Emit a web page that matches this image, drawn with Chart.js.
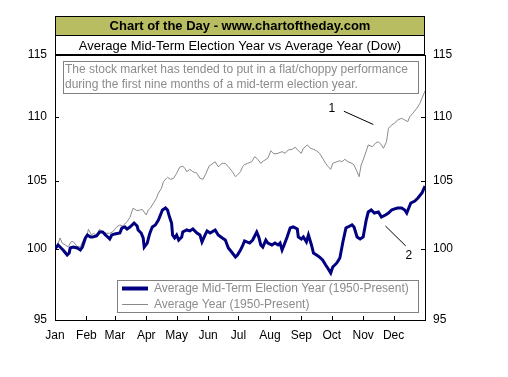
<!DOCTYPE html>
<html>
<head>
<meta charset="utf-8">
<script src="https://cdn.jsdelivr.net/npm/chart.js@4.4.0/dist/chart.umd.min.js"></script>
<style>
  html,body{margin:0;padding:0;background:#fff;}
  #wrap{width:508px;height:377px;position:relative;}
</style>
</head>
<body>
<div id="wrap"><canvas id="cotd"></canvas></div>
<script>
/* Mid-term election year vs average year (Dow) */
const monthDays=[0,31,59,90,120,151,181,212,243,273,304,334];
const monthLabels=['Jan','Feb','Mar','Apr','May','Jun','Jul','Aug','Sep','Oct','Nov','Dec'];
const yTicks=[95,100,105,110,115];

// Average Mid-Term Election Year (1950-Present)
const midDays=[0,3,6,8,12,14,15,18,22,25,27,30,32,35,37,41,44,47,50,52,54,56,59,64,66,69,71,74,78,81,82,85,87,88,91,93,94,96,99,102,106,109,111,113,115,116,118,120,122,125,126,130,133,136,140,143,145,148,150,153,158,161,165,168,171,175,178,180,183,185,187,192,195,199,201,203,205,208,210,214,217,220,222,224,226,229,232,235,239,240,243,245,248,250,253,255,258,261,264,267,269,272,274,278,281,284,287,289,293,295,298,301,304,307,309,312,315,319,322,326,329,332,335,338,342,345,347,349,351,355,358,362,365];
const midVals=[100.0,100.28,100.06,99.92,99.56,99.70,100.06,100.13,100.06,99.92,100.13,100.79,101.00,100.86,100.86,100.93,101.22,101.22,101.00,100.86,100.71,101.00,101.08,101.15,101.52,101.59,101.44,101.59,101.88,101.66,101.37,101.15,100.79,100.13,100.42,101.00,101.22,101.59,101.74,102.10,102.84,102.99,102.84,102.32,101.88,101.00,100.79,101.00,100.64,100.86,101.22,101.37,101.30,101.44,101.15,101.00,100.50,101.00,101.30,101.15,101.37,101.00,100.79,100.64,100.06,99.70,99.41,99.56,99.92,100.21,100.57,100.42,100.64,101.22,100.86,100.28,100.13,100.64,100.42,100.28,100.42,100.28,100.42,99.92,100.28,100.86,101.52,101.59,101.44,100.86,100.71,100.86,100.50,101.00,100.28,99.70,99.56,99.41,99.20,98.84,98.63,98.27,98.70,98.99,99.34,100.50,101.52,101.59,101.74,101.59,100.86,100.71,100.86,102.10,102.69,102.84,102.62,102.69,102.32,102.47,102.62,102.84,102.92,102.99,102.99,102.84,102.62,102.99,103.36,103.51,103.73,104.11,104.63];

// Average Year (1950-Present)
const avgDays=[0,2,5,7,10,13,16,18,22,25,28,32,33,36,38,41,44,47,51,54,57,61,64,67,71,74,77,81,84,86,90,92,94,97,100,102,105,107,110,111,114,117,120,123,126,128,130,133,136,140,143,146,149,152,155,158,161,165,168,171,175,178,180,183,185,187,190,194,197,200,203,206,210,213,216,220,224,227,230,234,237,240,243,245,249,252,255,258,261,264,267,269,272,274,278,281,283,286,289,293,295,298,300,302,304,308,309,313,316,319,322,324,327,329,332,335,338,342,345,348,350,353,357,360,362,365];
const avgVals=[100.0,100.15,100.79,100.42,100.28,100.15,100.52,100.52,100.15,100.15,100.64,101.13,101.42,101.00,101.13,101.00,101.42,101.24,101.13,101.13,101.24,101.61,101.74,101.66,101.98,102.30,102.97,102.79,102.84,102.89,102.47,102.84,102.97,103.34,103.71,104.09,104.46,104.96,105.22,105.29,105.14,105.22,105.60,106.06,106.15,105.98,105.72,105.90,105.72,105.60,105.22,105.14,105.60,106.15,106.31,106.48,106.10,106.36,106.36,106.10,105.72,105.34,105.47,105.72,106.10,106.27,106.36,106.48,106.87,106.67,106.36,106.56,106.75,107.33,107.08,107.13,107.26,107.13,107.39,107.44,107.60,107.33,107.13,107.52,107.78,107.52,107.44,107.33,107.13,106.75,106.36,106.15,105.90,106.36,106.48,106.56,106.48,106.67,106.48,106.36,106.23,105.72,105.34,106.23,106.62,107.52,107.78,107.64,107.91,108.03,107.78,107.52,108.03,109.08,109.34,109.48,109.74,109.87,109.74,109.60,110.00,110.27,110.67,111.06,111.47,112.05];

const headerText='Chart of the Day - www.chartoftheday.com';
const titleText='Average Mid-Term Election Year vs Average Year (Dow)';
const noteLines=['The stock market has tended to put in a flat/choppy performance','during the first nine months of a mid-term election year.'];
// callouts: label position and pointer line, in (day, value)
const callouts=[
  {text:'1',at:[273,110.65],from:[285,110.43],to:[314,109.38]},
  {text:'2',at:[349,99.5],from:[326,101.66],to:[346,100.21]}
];

const FONT='"Liberation Sans", Arial, sans-serif';
const NAVY='#000080', GREY='#8c8c8c';

function pairs(xs,ys){return xs.map((d,i)=>({x:d,y:ys[i]}));}

const decor={
  id:'decor',
  afterDraw(chart){
    const {ctx,chartArea:a,scales}=chart;const sx=scales.x,sy=scales.y;
    ctx.save();
    // header band + title band
    ctx.fillStyle='#b7bd60';ctx.fillRect(a.left,a.top-39,a.right-a.left,20);
    ctx.strokeStyle='#000';ctx.lineWidth=1;
    ctx.strokeRect(a.left+0.5,a.top-38.5,a.right-a.left-1,38);
    ctx.beginPath();ctx.moveTo(a.left,a.top-19.5);ctx.lineTo(a.right,a.top-19.5);
    ctx.moveTo(a.left,a.top+0.5);ctx.lineTo(a.right,a.top+0.5);ctx.stroke();
    ctx.fillStyle='#000';ctx.textAlign='center';ctx.textBaseline='middle';
    ctx.font='bold 13px '+FONT;ctx.fillText(headerText,(a.left+a.right)/2,a.top-28.5);
    ctx.font='13px '+FONT;ctx.fillText(titleText,(a.left+a.right)/2,a.top-8.5);
    // inward ticks
    ctx.beginPath();
    yTicks.forEach(v=>{const y=Math.round(sy.getPixelForValue(v))+0.5;
      ctx.moveTo(a.left,y);ctx.lineTo(a.left+4,y);ctx.moveTo(a.right,y);ctx.lineTo(a.right-4,y);});
    monthDays.forEach(d=>{const x=Math.round(sx.getPixelForValue(d))+0.5;
      ctx.moveTo(x,a.bottom);ctx.lineTo(x,a.bottom-4);});
    ctx.stroke();
    // note box
    ctx.fillStyle='#fff';ctx.fillRect(a.left+8,a.top+6,356,32);
    ctx.strokeStyle='#808080';ctx.strokeRect(a.left+8.5,a.top+6.5,355,32);
    ctx.fillStyle=GREY;ctx.textAlign='left';ctx.font='12px '+FONT;
    ctx.fillText(noteLines[0],a.left+10,a.top+15);
    ctx.fillText(noteLines[1],a.left+10,a.top+30);
    // legend box
    const lx=a.left+62,ly=a.bottom-40;
    ctx.fillStyle='#fff';ctx.fillRect(lx,ly,301,32);
    ctx.strokeStyle='#808080';ctx.strokeRect(lx+0.5,ly+0.5,301,32);
    chart.data.datasets.forEach((ds,i)=>{
      const yy=ly+8.5+i*16;
      ctx.strokeStyle=ds.borderColor;ctx.lineWidth=i===0?4:1;
      ctx.beginPath();ctx.moveTo(lx+5,yy);ctx.lineTo(lx+31,yy);ctx.stroke();
      ctx.fillStyle=GREY;ctx.fillText(ds.label,lx+37,yy);
    });
    // callouts
    ctx.strokeStyle='#000';ctx.lineWidth=1;ctx.fillStyle='#000';ctx.textAlign='center';
    callouts.forEach(c=>{
      ctx.beginPath();
      ctx.moveTo(sx.getPixelForValue(c.from[0]),sy.getPixelForValue(c.from[1]));
      ctx.lineTo(sx.getPixelForValue(c.to[0]),sy.getPixelForValue(c.to[1]));
      ctx.stroke();
      ctx.fillText(c.text,sx.getPixelForValue(c.at[0]),sy.getPixelForValue(c.at[1]));
    });
    ctx.restore();
  }
};

function yScale(pos,w){
  return {type:'logarithmic',position:pos,min:95,max:115,
    afterBuildTicks:s=>{s.ticks=yTicks.map(v=>({value:v}));},
    afterFit:s=>{s.width=w;},
    grid:{display:false,drawTicks:false},
    border:{display:true,color:'#000',width:1},
    ticks:{color:'#000',padding:8,font:{family:FONT,size:12},callback:v=>String(v)}};
}

new Chart(document.getElementById('cotd'),{
  type:'line',
  data:{datasets:[
    {label:'Average Mid-Term Election Year (1950-Present)',data:pairs(midDays,midVals),borderColor:NAVY,borderWidth:3,pointRadius:0,tension:0,yAxisID:'y'},
    {label:'Average Year (1950-Present)',data:pairs(avgDays,avgVals),borderColor:'#8a8a8a',borderWidth:1,pointRadius:0,tension:0,yAxisID:'y'}
  ]},
  options:{responsive:true,maintainAspectRatio:false,animation:false,
    layout:{padding:{top:55,left:0,right:0,bottom:0}},
    plugins:{legend:{display:false},tooltip:{enabled:false}},
    scales:{
      x:{type:'linear',min:0,max:365,
        afterBuildTicks:s=>{s.ticks=monthDays.map(v=>({value:v}));},
        afterFit:s=>{s.height=57;},
        grid:{display:false,drawTicks:false},
        border:{display:true,color:'#000',width:1},
        ticks:{color:'#000',padding:8,autoSkip:false,maxRotation:0,font:{family:FONT,size:12},
          callback:(v)=>monthLabels[monthDays.indexOf(v)]}},
      y:yScale('left',55),
      y2:yScale('right',83)
    }},
  plugins:[decor]
});
</script>
</body>
</html>
